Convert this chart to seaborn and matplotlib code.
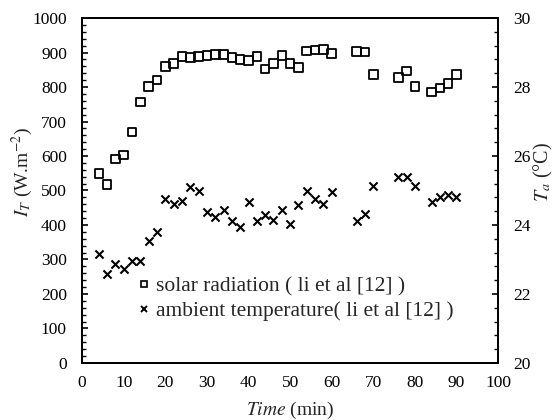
import matplotlib
matplotlib.use('Agg')
import matplotlib.pyplot as plt
from matplotlib.ticker import MultipleLocator
import seaborn as sns
import numpy as np

# solar radiation (li et al [12])
time_solar = [4, 6, 8, 10, 12, 14, 16, 18, 20, 22, 24, 26, 28, 30, 32, 34, 36, 38, 40, 42,
              44, 46, 48, 50, 52, 54, 56, 58, 60, 66, 68, 70, 76, 78, 80, 84, 86, 88, 90]
solar = [550, 518, 591, 603, 670, 756, 802, 820, 859, 868, 888, 885, 888, 891, 894, 894, 885, 880, 877, 888,
         852, 869, 891, 868, 857, 905, 907, 909, 898, 903, 902, 837, 828, 846, 801, 785, 797, 810, 837]

# ambient temperature (li et al [12])
time_temp = [4, 6, 8, 10, 12, 14, 16, 18, 20, 22, 24, 26, 28, 30, 32, 34, 36, 38, 40, 42,
             44, 46, 48, 50, 52, 54, 56, 58, 60, 66, 68, 70, 76, 78, 80, 84, 86, 88, 90]
temp = [23.15, 22.57, 22.86, 22.71, 22.96, 22.96, 23.54, 23.79, 24.76, 24.60, 24.70, 25.09, 24.99, 24.37,
        24.24, 24.43, 24.12, 23.95, 24.68, 24.12, 24.28, 24.14, 24.43, 24.02, 24.58, 24.99, 24.76, 24.62,
        24.95, 24.12, 24.31, 25.13, 25.38, 25.38, 25.13, 24.66, 24.80, 24.87, 24.82]

sns.set_style('white')
plt.rcParams['font.family'] = ['Liberation Serif', 'DejaVu Serif']
plt.rcParams['mathtext.fontset'] = 'stix'

fig = plt.figure(figsize=(5.59, 4.2), dpi=100)
ax = fig.add_axes([0.147, 0.136, 0.744, 0.821])
ax2 = ax.twinx()

sns.scatterplot(x=time_solar, y=solar, ax=ax, marker='s', s=38, facecolor='none',
                edgecolor='black', linewidth=1.3, legend=False)
sns.scatterplot(x=time_temp, y=temp, ax=ax2, marker='x', s=34, color='black',
                linewidth=1.5, legend=False)

ax.set_xlim(0, 100)
ax.set_ylim(0, 1000)
ax2.set_ylim(20, 30)

ax.xaxis.set_major_locator(MultipleLocator(10))
ax.xaxis.set_minor_locator(MultipleLocator(2))
ax.yaxis.set_major_locator(MultipleLocator(100))
ax.yaxis.set_minor_locator(MultipleLocator(20))
ax2.yaxis.set_major_locator(MultipleLocator(2))
ax2.yaxis.set_minor_locator(MultipleLocator(0.4))

for a in (ax, ax2):
    a.tick_params(which='both', direction='in', labelsize=12.5, colors='black')
    a.tick_params(which='major', length=4, width=1.2)
    a.tick_params(which='minor', length=3, width=1.0)
    for sp in a.spines.values():
        sp.set_color('black')
        sp.set_linewidth(1.3)
ax.tick_params(axis='both', which='both', top=False, right=False)
ax.tick_params(axis='y', which='major', pad=11)
ax.tick_params(axis='x', which='major', pad=9)
ax2.tick_params(axis='y', which='both', left=False, right=True)
ax2.tick_params(axis='y', which='major', pad=11)

ax.set_xlabel(r'$\mathit{Time}$ (min)', fontsize=14)
ax.xaxis.set_label_coords(0.5, -0.108)
ax.set_ylabel(r'$\mathit{I_T}$ (W.m$^{-2}$)', fontsize=14)
ax.yaxis.set_label_coords(-0.113, 0.553)
ax2.set_ylabel(r'$\mathit{T_a}$ (°C)', fontsize=14.5, rotation=90)
ax2.yaxis.set_label_coords(1.082, 0.555)

h1 = plt.Line2D([], [], marker='s', linestyle='none', markerfacecolor='none',
                markeredgecolor='black', markersize=4.5, markeredgewidth=1.2)
h2 = plt.Line2D([], [], marker='x', linestyle='none', color='black',
                markersize=4.5, markeredgewidth=1.4)
ax2.legend([h1, h2], ['solar radiation ( li et al [12] )', 'ambient temperature( li et al [12] )'],
           loc='upper left', bbox_to_anchor=(0.133, 0.25), frameon=False, fontsize=15.5,
           handlelength=0.6, handletextpad=0.25, labelspacing=0.2, borderaxespad=0, borderpad=0)

fig.savefig('out.png', dpi=100)
